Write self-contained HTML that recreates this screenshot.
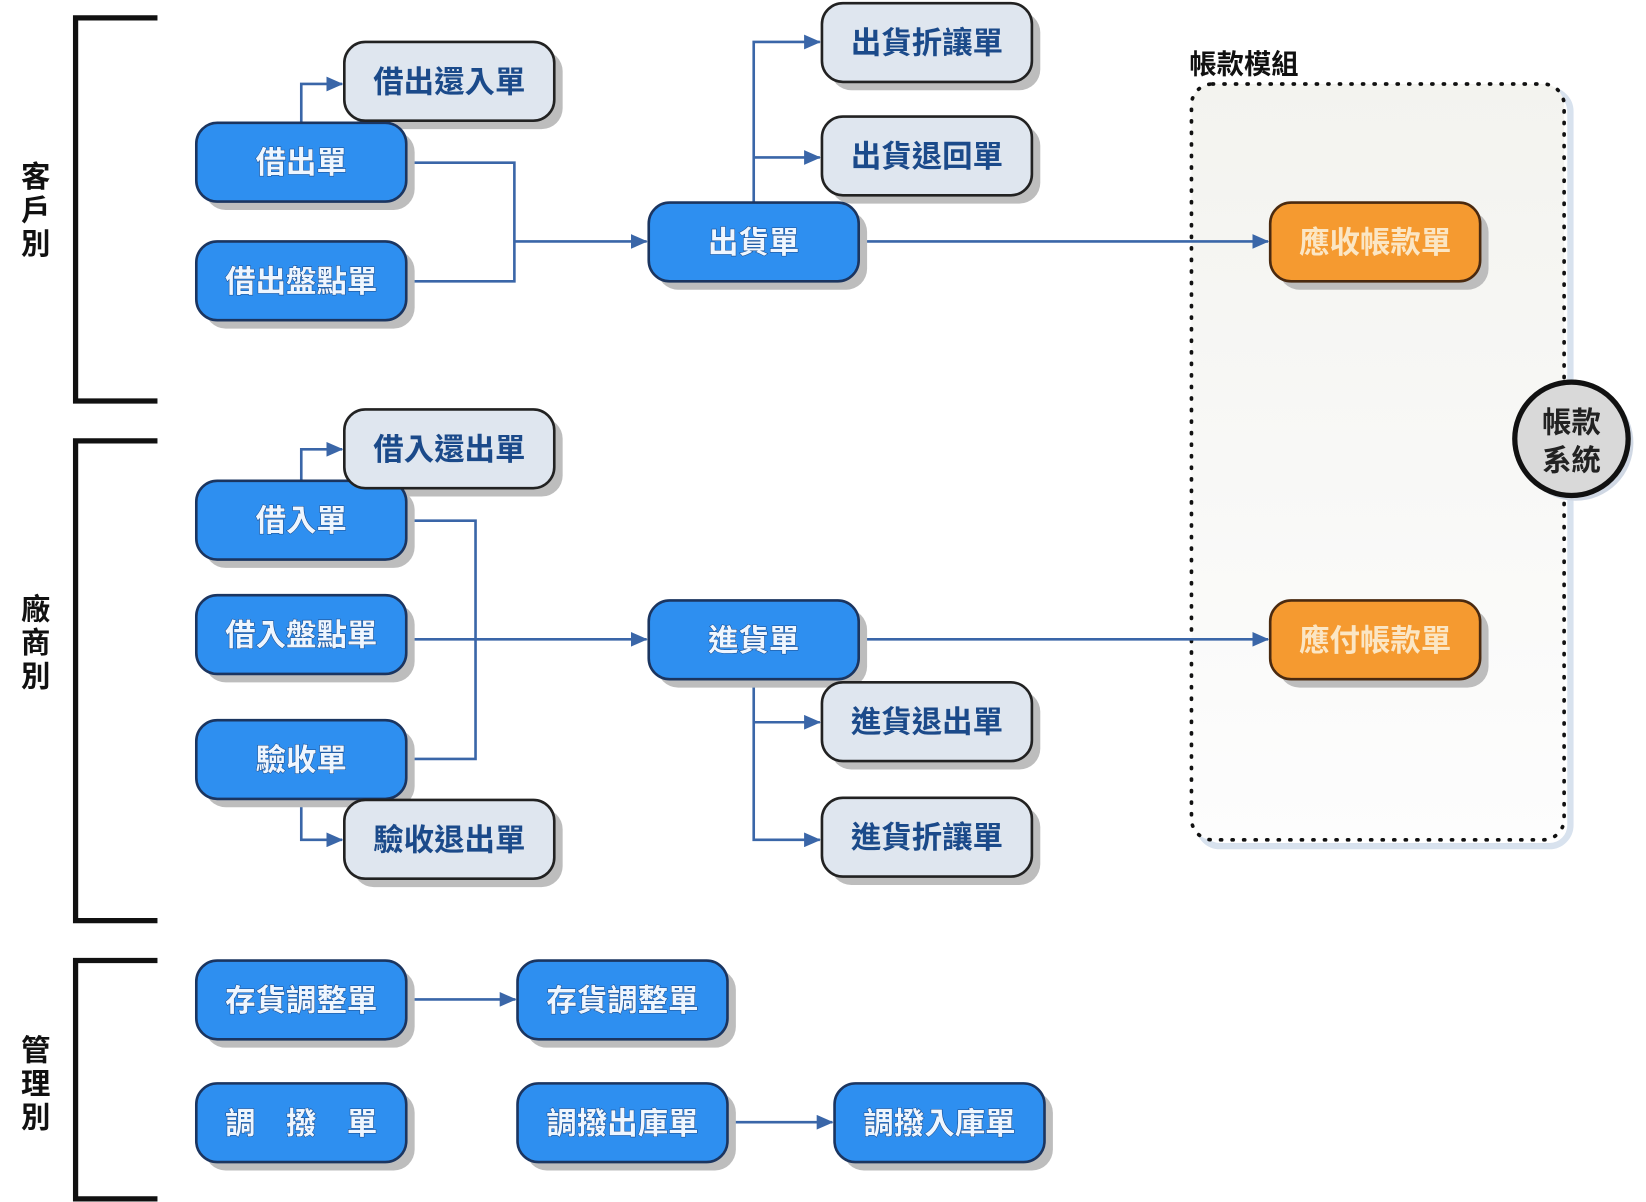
<!DOCTYPE html>
<html><head><meta charset="utf-8"><style>
html,body{margin:0;padding:0;background:#fff;}
svg{display:block;}
text{font-family:"Liberation Sans","Noto Sans CJK TC",sans-serif;font-weight:bold;}
</style></head><body>
<svg width="1646" height="1202" viewBox="0 0 1568 1145" preserveAspectRatio="none" xmlns="http://www.w3.org/2000/svg">
<defs>
<marker id="a" markerWidth="16" markerHeight="14" refX="15" refY="7" orient="auto" markerUnits="userSpaceOnUse" viewBox="0 0 16 14">
<path d="M0,0 L16,7 L0,14 z" fill="#3a66a8"/></marker>
<linearGradient id="g" x1="0" y1="0" x2="0" y2="1"><stop offset="0" stop-color="#f3f3ef"/><stop offset="1" stop-color="#fdfdfd"/></linearGradient>
</defs>
<rect x="1142" y="86" width="354" height="720" rx="20" fill="none" stroke="#d8e2ee" stroke-width="6"/>
<rect x="1135" y="80" width="355" height="720" rx="20" fill="url(#g)" stroke="#111" stroke-width="3.5" stroke-dasharray="1 10" stroke-linecap="round"/>
<text x="1133" y="70" font-size="26" fill="#111">帳款模組</text>
<circle cx="1501" cy="422" r="55" fill="#d0d8e4"/>
<circle cx="1497" cy="418" r="54" fill="#d9d9d9" stroke="#111" stroke-width="5"/>
<text x="1497" y="412" font-size="28" fill="#222" text-anchor="middle">帳款</text>
<text x="1497" y="448" font-size="28" fill="#222" text-anchor="middle">系統</text>
<g fill="none" stroke="#111" stroke-width="5">
<path d="M150,17 H72 V382 H150"/><path d="M150,420 H72 V877 H150"/><path d="M150,915 H72 V1142 H150"/>
</g>
<g font-size="28" fill="#111" text-anchor="middle">
<text x="34" y="178">客</text><text x="34" y="210">戶</text><text x="34" y="242">別</text>
<text x="34" y="590">廠</text><text x="34" y="622">商</text><text x="34" y="654">別</text>
<text x="34" y="1010">管</text><text x="34" y="1042">理</text><text x="34" y="1074">別</text>
</g>
<g fill="none" stroke="#3a66a8" stroke-width="2.5">
<path d="M287,117 V80 H326" marker-end="url(#a)"/>
<path d="M387,155 H490 V268 H387"/>
<path d="M490,230 H616" marker-end="url(#a)"/>
<path d="M718,193 V40 H781" marker-end="url(#a)"/>
<path d="M718,150 H781" marker-end="url(#a)"/>
<path d="M818,230 H1208" marker-end="url(#a)"/>
<path d="M287,458 V428 H326" marker-end="url(#a)"/>
<path d="M387,496 H453 V723 H387"/>
<path d="M387,609 H616" marker-end="url(#a)"/>
<path d="M287,761 V800 H326" marker-end="url(#a)"/>
<path d="M718,647 V800 H781" marker-end="url(#a)"/>
<path d="M718,688 H781" marker-end="url(#a)"/>
<path d="M818,609 H1208" marker-end="url(#a)"/>
<path d="M387,952 H491" marker-end="url(#a)"/>
<path d="M693,1069 H793" marker-end="url(#a)"/>
</g>
<g stroke="#1b3560" stroke-width="2.5">
<g fill="#bdbdbd" stroke="none">
<rect x="195" y="125" width="200" height="75" rx="20"/><rect x="195" y="238" width="200" height="75" rx="20"/>
<rect x="195" y="466" width="200" height="75" rx="20"/><rect x="195" y="575" width="200" height="75" rx="20"/>
<rect x="195" y="694" width="200" height="75" rx="20"/><rect x="195" y="923" width="200" height="75" rx="20"/>
<rect x="195" y="1040" width="200" height="75" rx="20"/><rect x="626" y="201" width="200" height="75" rx="20"/>
<rect x="626" y="580" width="200" height="75" rx="20"/><rect x="501" y="923" width="200" height="75" rx="20"/>
<rect x="501" y="1040" width="200" height="75" rx="20"/><rect x="803" y="1040" width="200" height="75" rx="20"/>
<rect x="336" y="48" width="200" height="75" rx="20"/><rect x="336" y="398" width="200" height="75" rx="20"/>
<rect x="336" y="770" width="200" height="75" rx="20"/><rect x="791" y="11" width="200" height="75" rx="20"/>
<rect x="791" y="119" width="200" height="75" rx="20"/><rect x="791" y="658" width="200" height="75" rx="20"/>
<rect x="791" y="768" width="200" height="75" rx="20"/><rect x="1218" y="201" width="200" height="75" rx="20"/>
<rect x="1218" y="580" width="200" height="75" rx="20"/>
</g>
<g fill="#2e8ff0">
<rect x="187" y="117" width="200" height="75" rx="20"/><rect x="187" y="230" width="200" height="75" rx="20"/>
<rect x="187" y="458" width="200" height="75" rx="20"/><rect x="187" y="567" width="200" height="75" rx="20"/>
<rect x="187" y="686" width="200" height="75" rx="20"/><rect x="187" y="915" width="200" height="75" rx="20"/>
<rect x="187" y="1032" width="200" height="75" rx="20"/><rect x="618" y="193" width="200" height="75" rx="20"/>
<rect x="618" y="572" width="200" height="75" rx="20"/><rect x="493" y="915" width="200" height="75" rx="20"/>
<rect x="493" y="1032" width="200" height="75" rx="20"/><rect x="795" y="1032" width="200" height="75" rx="20"/>
</g>
<g fill="#dfe6ef" stroke="#222">
<rect x="328" y="40" width="200" height="75" rx="20"/><rect x="328" y="390" width="200" height="75" rx="20"/>
<rect x="328" y="762" width="200" height="75" rx="20"/><rect x="783" y="3" width="200" height="75" rx="20"/>
<rect x="783" y="111" width="200" height="75" rx="20"/><rect x="783" y="650" width="200" height="75" rx="20"/>
<rect x="783" y="760" width="200" height="75" rx="20"/>
</g>
<g fill="#f59a30" stroke="#4a2a10">
<rect x="1210" y="193" width="200" height="75" rx="20"/><rect x="1210" y="572" width="200" height="75" rx="20"/>
</g>
</g>
<g font-size="29" text-anchor="middle" fill="#eef6ff" stroke="#1b4a8a" stroke-width="1" paint-order="stroke">
<text x="287" y="165">借出單</text><text x="287" y="278">借出盤點單</text>
<text x="287" y="506">借入單</text><text x="287" y="615">借入盤點單</text>
<text x="287" y="734">驗收單</text><text x="287" y="963">存貨調整單</text>
<text x="287" y="1080" xml:space="preserve">調　撥　單</text><text x="718" y="241">出貨單</text>
<text x="718" y="620">進貨單</text><text x="593" y="963">存貨調整單</text>
<text x="593" y="1080">調撥出庫單</text><text x="895" y="1080">調撥入庫單</text>
</g>
<g font-size="29" text-anchor="middle" fill="#1b4a8a">
<text x="428" y="88">借出還入單</text><text x="428" y="438">借入還出單</text>
<text x="428" y="810">驗收退出單</text><text x="883" y="51">出貨折讓單</text>
<text x="883" y="159">出貨退回單</text><text x="883" y="698">進貨退出單</text>
<text x="883" y="808">進貨折讓單</text>
</g>
<g font-size="29" text-anchor="middle" fill="#fbe6c4">
<text x="1310" y="241">應收帳款單</text><text x="1310" y="620">應付帳款單</text>
</g>
</svg>
</body></html>
